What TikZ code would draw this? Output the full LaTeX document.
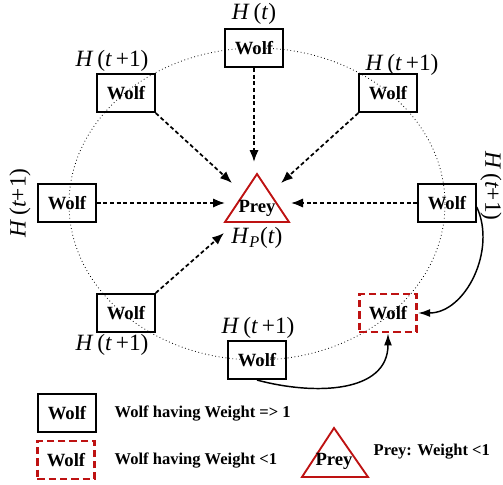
\documentclass[tikz,border=0pt]{standalone}
\usepackage{fontspec}
\setmainfont{Liberation Serif}
\usetikzlibrary{arrows.meta}
\definecolor{wolfred}{RGB}{190,18,18}
\newcommand{\hpos}[1]{\textit{H}\,(\textit{t}#1)}

\begin{document}
\begin{tikzpicture}[x=0.75pt, y=-0.75pt,
    wolf/.style={draw, line width=1.6pt, minimum width=43pt, minimum height=28.5pt, inner sep=0pt, font=\fontsize{14}{16}\selectfont\bfseries},
    weakwolf/.style={wolf, draw=wolfred, dash pattern=on 5.5pt off 3pt, line width=2.2pt},
    hlabel/.style={font=\fontsize{17.5}{20}\selectfont},
    legendtext/.style={anchor=west, font=\fontsize{12.4}{15}\selectfont\bfseries},
    hunt/.style={-{Latex[length=9pt,width=7pt]}, line width=1.3pt, dash pattern=on 3pt off 2pt},
    move/.style={-{Latex[length=9pt,width=6pt]}, line width=1.1pt}]
  \useasboundingbox (0,0) rectangle (503,485);
  % dotted search circle
  \draw[dotted, line width=0.6pt] (257,204) ellipse[x radius=188, y radius=156];
  % prey
  \coordinate (pa) at (257,174);
  \coordinate (pl) at (225,222);
  \coordinate (pr) at (289,222);
  \draw[wolfred, line width=1.4pt] (pa) -- (pl) -- (pr) -- cycle;
  \node[font=\fontsize{14}{16}\selectfont\bfseries] (prey) at (257,208) {Prey};
  \node[hlabel] (hp) at (257,238) {\textit{H}\textsubscript{\textit{P}}(\textit{t})};
  % wolves
  \node[wolf] (tw) at (254,48) {Wolf};
  \node[wolf] (ulw) at (126,93) {Wolf};
  \node[wolf] (urw) at (388,93) {Wolf};
  \node[wolf] (lw) at (67,203) {Wolf};
  \node[wolf] (rw) at (447,203) {Wolf};
  \node[wolf] (llw) at (126,313) {Wolf};
  \node[wolf] (bw) at (257,360) {Wolf};
  \node[weakwolf] (ww) at (388,313) {Wolf};
  % position labels
  \node[hlabel] (htw) at (254,14) {\hpos{}};
  \node[hlabel] (hulw) at (112,61) {\hpos{\,+1}};
  \node[hlabel] (hurw) at (402,65) {\hpos{\,+1}};
  \node[hlabel, rotate=90] (hlw) at (20,203) {\hpos{+1}};
  \node[hlabel, rotate=-90] (hrw) at (491,186) {\hpos{+1}};
  \node[hlabel] (hllw) at (112,345) {\hpos{\,+1}};
  \node[hlabel] (hbw) at (258,328) {\hpos{\,+1}};
  % arrow ends near the prey
  \coordinate (et) at (254,162);
  \coordinate (eul) at (232,183);
  \coordinate (eur) at (281,183);
  \coordinate (el) at (225,203);
  \coordinate (er) at (291,203);
  \coordinate (ell) at (224,233);
  \draw[hunt] (tw.south) -- (et);
  \draw[hunt] (ulw.south east) -- (eul);
  \draw[hunt] (urw.south west) -- (eur);
  \draw[hunt] (lw.east) -- (el);
  \draw[hunt] (rw.west) -- (er);
  \draw[hunt] (llw.north east) -- (ell);
  % moves towards the weak wolf
  \draw[move] ([yshift=-3pt]rw.east) to[out=-65, in=0, looseness=1.0] (ww.east);
  \draw[move] (bw.south) to[out=-15, in=-90, looseness=1.1] (ww.south);
  % legend
  \node[wolf] (lgw) at (67,413) {Wolf};
  \node[legendtext] (lgwt) at (110,413) {Wolf having Weight => 1};
  \node[weakwolf] (lgww) at (66,460) {Wolf};
  \node[legendtext] (lgwwt) at (110,460) {Wolf having Weight <1};
  \coordinate (la) at (334,428);
  \coordinate (ll) at (302,477);
  \coordinate (lr) at (368,477);
  \draw[wolfred, line width=1.4pt] (la) -- (ll) -- (lr) -- cycle;
  \node[font=\fontsize{14}{16}\selectfont\bfseries] (lgp) at (334,461) {Prey};
  \node[legendtext] (lgpt) at (369,452) {Prey: Weight <1};
\end{tikzpicture}
\end{document}
